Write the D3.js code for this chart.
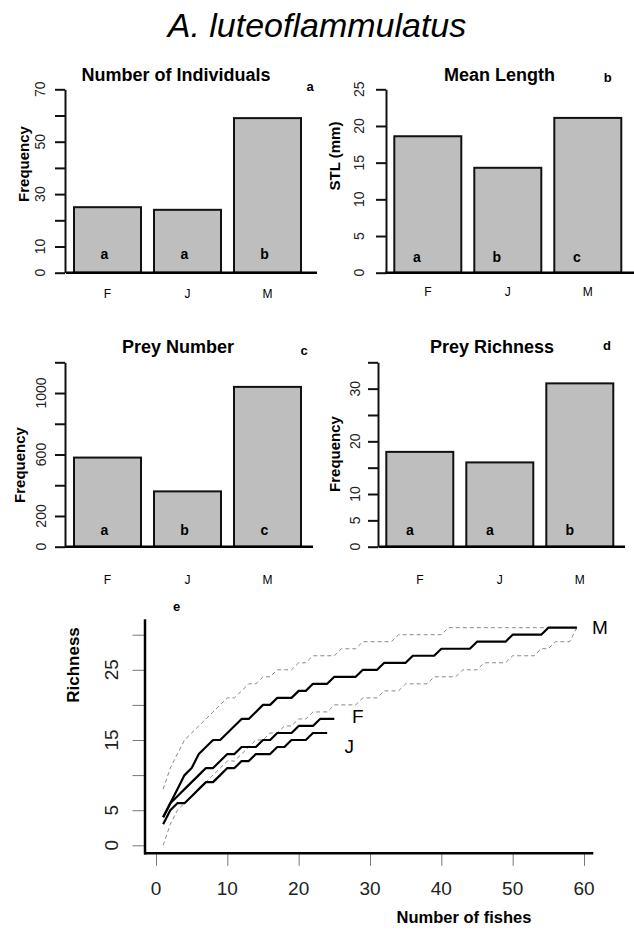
<!DOCTYPE html>
<html><head><meta charset="utf-8">
<script src="https://cdn.jsdelivr.net/npm/d3@7"></script>
<style>body{margin:0;background:#fff}svg{display:block}text{font-family:"Liberation Sans",Arial,sans-serif}</style>
</head><body>
<svg id="c" width="634" height="932"></svg>
<script>
// ---------- data ----------
const months = ["F", "J", "M"];
const individuals = [25, 24, 59];
const meanLength = [18.6, 14.3, 21.1];
const preyNumber = [580, 360, 1040];
const preyRichness = [18, 16, 31];
const lettersA = ["a", "a", "b"];
const lettersB = ["a", "b", "c"];
const lettersC = ["a", "b", "c"];
const lettersD = ["a", "a", "b"];
const ticksA = [0, 10, 20, 30, 40, 50, 60, 70], labelsA = [0, 10, 30, 50, 70];
const ticksB = [0, 5, 10, 15, 20, 25], labelsB = [0, 5, 10, 15, 20, 25];
const ticksC = [0, 200, 400, 600, 800, 1000, 1200], labelsC = [0, 200, 600, 1000];
const ticksD = [0, 5, 10, 15, 20, 25, 30, 35], labelsD = [0, 5, 10, 20, 30];
// rarefaction curves (richness vs number of fishes, starting at 1)
const richM = [4,6,8,10,11,13,14,15,15,16,17,18,18,19,20,20,21,21,21,22,22,23,23,23,24,24,24,24,25,25,25,26,26,26,26,27,27,27,27,28,28,28,28,28,29,29,29,29,29,30,30,30,30,30,31,31,31,31,31];
const upperM = [8,11,13,15,16,17,18,19,20,21,21,22,23,23,24,24,25,25,25,26,26,27,27,27,27,28,28,28,29,29,29,29,29,30,30,30,30,30,30,30,31,31,31,31,31,31,31,31,31,31,31,31,31,31,31,31,31,31,31];
const lowerM = [0,3,5,6,7,8,9,10,11,12,12,13,14,15,15,16,16,17,17,18,18,19,19,19,20,20,20,20,21,21,21,22,22,22,23,23,23,23,24,24,24,24,25,25,25,26,26,26,26,27,27,27,27,28,28,29,29,29,31];
const richF = [4,6,7,8,9,10,11,11,12,13,13,14,14,14,15,15,16,16,16,17,17,17,18,18,18];
const richJ = [3,5,6,6,7,8,9,9,10,11,11,12,12,13,13,13,14,14,15,15,15,16,16,16];
const ticksE_y = [0, 5, 10, 15, 20, 25, 30], labelsE_y = [0, 5, 15, 25];
const ticksE_x = [0, 10, 20, 30, 40, 50, 60];

const svg = d3.select("#c");

// main title
svg.append("text").attr("x", 317).attr("y", 37).attr("text-anchor", "middle")
  .attr("font-size", 34).attr("font-style", "italic").text("A. luteoflammulatus");

function barPanel(o) {
  const g = svg.append("g");
  const y = d3.scaleLinear().domain([0, o.ymax]).range([o.y0, o.y1]);
  const x = d3.scaleBand().domain(months).range([o.bx, o.bx + 240]).paddingInner(0.1625).paddingOuter(0.08125);
  g.selectAll("rect.bar").data(o.values).join("rect")
    .attr("x", (d, i) => x(months[i])).attr("width", x.bandwidth())
    .attr("y", d => y(d)).attr("height", d => y(0) - y(d))
    .attr("fill", "#bebebe").attr("stroke", "#111").attr("stroke-width", 2);
  g.append("line").attr("x1", o.baseX1).attr("x2", o.baseX2).attr("y1", y(0)).attr("y2", y(0))
    .attr("stroke", "#000").attr("stroke-width", 2.5);
  const ax = g.append("g").attr("transform", `translate(${o.ax},0)`)
    .call(d3.axisLeft(y).tickValues(o.ticks).tickSize(10).tickSizeOuter(0).tickFormat(""));
  ax.select(".domain").attr("stroke", "#111").attr("stroke-width", 2);
  ax.selectAll(".tick line").attr("stroke", "#111").attr("stroke-width", 2);
  g.selectAll("text.yl").data(o.labels).join("text")
    .attr("transform", d => `translate(${o.lx},${y(d)}) rotate(-90)`)
    .attr("text-anchor", "middle").attr("dominant-baseline", "central")
    .attr("font-size", 14).attr("fill", "#222").text(d => d);
  g.append("text").attr("transform", `translate(${o.tx},${o.ty}) rotate(-90)`)
    .attr("text-anchor", "middle").attr("dominant-baseline", "central")
    .attr("font-size", 15).attr("font-weight", "bold").text(o.ytitle);
  g.selectAll("text.xl").data(months).join("text")
    .attr("x", d => x(d) + x.bandwidth() / 2).attr("y", o.xly)
    .attr("text-anchor", "middle").attr("dominant-baseline", "central")
    .attr("font-size", 12).text(d => d);
  g.selectAll("text.lt").data(o.letters).join("text")
    .attr("x", (d, i) => x(months[i]) + x.bandwidth() / 2 + o.lshift).attr("y", o.lety)
    .attr("text-anchor", "middle").attr("dominant-baseline", "central")
    .attr("font-size", 14).attr("font-weight", "bold").text(d => d);
  g.append("text").attr("x", o.titleX).attr("y", o.titleY).attr("text-anchor", "middle")
    .attr("dominant-baseline", "central").attr("font-size", 18).attr("font-weight", "bold").text(o.title);
  g.append("text").attr("x", o.pX).attr("y", o.pY).attr("text-anchor", "middle")
    .attr("dominant-baseline", "central").attr("font-size", 13).attr("font-weight", "bold").text(o.panel);
}

barPanel({values: individuals, letters: lettersA, ticks: ticksA, labels: labelsA, ymax: 70,
  y0: 272.7, y1: 89.3, bx: 67.5, ax: 65, baseX1: 66, baseX2: 317, lx: 40, tx: 23, ty: 164,
  ytitle: "Frequency", xly: 294, lety: 254, lshift: -3, title: "Number of Individuals",
  titleX: 176, titleY: 75, panel: "a", pX: 310, pY: 86});
barPanel({values: meanLength, letters: lettersB, ticks: ticksB, labels: labelsB, ymax: 25,
  y0: 272.7, y1: 89.3, bx: 387.8, ax: 386, baseX1: 385, baseX2: 634, lx: 358.5, tx: 334, ty: 156,
  ytitle: "STL (mm)", xly: 292, lety: 256.5, lshift: -11, title: "Mean Length",
  titleX: 499.5, titleY: 75, panel: "b", pX: 607.7, pY: 77});
barPanel({values: preyNumber, letters: lettersC, ticks: ticksC, labels: labelsC, ymax: 1200,
  y0: 546.7, y1: 362.3, bx: 67.5, ax: 65, baseX1: 65, baseX2: 313, lx: 41, tx: 19, ty: 465,
  ytitle: "Frequency", xly: 580, lety: 530, lshift: -3, title: "Prey Number",
  titleX: 178, titleY: 346.7, panel: "c", pX: 304, pY: 350.7});
barPanel({values: preyRichness, letters: lettersD, ticks: ticksD, labels: labelsD, ymax: 35,
  y0: 546.7, y1: 362.3, bx: 379.8, ax: 378, baseX1: 378.7, baseX2: 625, lx: 354.5, tx: 334, ty: 454,
  ytitle: "Frequency", xly: 580, lety: 530, lshift: -10, title: "Prey Richness",
  titleX: 492, titleY: 346.7, panel: "d", pX: 607, pY: 345});

// ---------- panel e ----------
const ge = svg.append("g");
const xe = d3.scaleLinear().domain([0, 60]).range([156, 584]);
const ye = d3.scaleLinear().domain([0, 30]).range([845.3, 634.7]);
const line = d3.line().x((d, i) => xe(i + 1)).y(d => ye(d));

const yax = ge.append("g").attr("transform", "translate(145,0)")
  .call(d3.axisLeft(ye).tickValues(ticksE_y).tickSize(12.5).tickFormat(""));
yax.select(".domain").remove();
yax.selectAll(".tick line").attr("stroke", "#777").attr("stroke-width", 1);
ge.selectAll("text.yel").data(labelsE_y).join("text")
  .attr("transform", d => `translate(111,${ye(d)}) rotate(-90)`)
  .attr("text-anchor", "middle").attr("dominant-baseline", "central")
  .attr("font-size", 19).attr("fill", "#222").text(d => d);
const xax = ge.append("g").attr("transform", "translate(0,853.3)")
  .call(d3.axisBottom(xe).tickValues(ticksE_x).tickSize(12.5).tickFormat(""));
xax.select(".domain").remove();
xax.selectAll(".tick line").attr("stroke", "#777").attr("stroke-width", 1);
ge.selectAll("text.xel").data(ticksE_x).join("text")
  .attr("x", d => xe(d)).attr("y", 888).attr("text-anchor", "middle").attr("dominant-baseline", "central")
  .attr("font-size", 19).attr("fill", "#222").text(d => d);
ge.append("line").attr("x1", 145).attr("x2", 145).attr("y1", 619.3).attr("y2", 854.5)
  .attr("stroke", "#000").attr("stroke-width", 2.5);
ge.append("line").attr("x1", 144).attr("x2", 593.3).attr("y1", 853.3).attr("y2", 853.3)
  .attr("stroke", "#000").attr("stroke-width", 2.5);

[upperM, lowerM].forEach(s => ge.append("path").attr("d", line(s)).attr("fill", "none")
  .attr("stroke", "#888").attr("stroke-width", 1).attr("stroke-dasharray", "4,3"));
[richM, richF, richJ].forEach(s => ge.append("path").attr("d", line(s)).attr("fill", "none")
  .attr("stroke", "#000").attr("stroke-width", 2.2).attr("stroke-linejoin", "round"));

ge.append("text").attr("x", 600).attr("y", 627.5).attr("font-size", 19).attr("text-anchor", "middle")
  .attr("dominant-baseline", "central").text("M");
ge.append("text").attr("x", 357.7).attr("y", 716).attr("font-size", 19).attr("text-anchor", "middle")
  .attr("dominant-baseline", "central").text("F");
ge.append("text").attr("x", 349.3).attr("y", 746).attr("font-size", 19).attr("text-anchor", "middle")
  .attr("dominant-baseline", "central").text("J");

ge.append("text").attr("transform", "translate(73,665) rotate(-90)").attr("text-anchor", "middle")
  .attr("dominant-baseline", "central").attr("font-size", 17).attr("font-weight", "bold").text("Richness");
ge.append("text").attr("x", 464).attr("y", 917).attr("text-anchor", "middle")
  .attr("dominant-baseline", "central").attr("font-size", 16.5).attr("font-weight", "bold").text("Number of fishes");
ge.append("text").attr("x", 176.7).attr("y", 606.7).attr("text-anchor", "middle")
  .attr("dominant-baseline", "central").attr("font-size", 13).attr("font-weight", "bold").text("e");
</script>
</body></html>
